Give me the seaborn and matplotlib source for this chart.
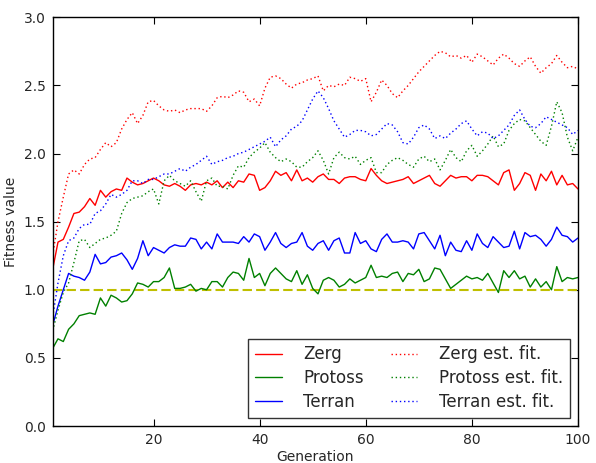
import numpy as np
import pandas as pd
import matplotlib
matplotlib.use("Agg")
import matplotlib.pyplot as plt
import seaborn as sns

# generations 1..100
generations = list(range(1, 101))

zerg = [1.15, 1.35, 1.37, 1.46, 1.56, 1.57, 1.61, 1.67, 1.62, 1.73,
        1.68, 1.72, 1.74, 1.73, 1.82, 1.79, 1.77, 1.78, 1.80, 1.82,
        1.80, 1.77, 1.76, 1.78, 1.76, 1.73, 1.77, 1.78, 1.77, 1.79,
        1.77, 1.80, 1.75, 1.79, 1.75, 1.80, 1.79, 1.85, 1.84, 1.73,
        1.75, 1.80, 1.87, 1.84, 1.86, 1.80, 1.88, 1.80, 1.82, 1.79,
        1.83, 1.85, 1.81, 1.81, 1.78, 1.82, 1.83, 1.83, 1.81, 1.80,
        1.89, 1.84, 1.80, 1.78, 1.79, 1.80, 1.81, 1.83, 1.78, 1.80,
        1.82, 1.84, 1.78, 1.76, 1.80, 1.84, 1.82, 1.83, 1.83, 1.80,
        1.84, 1.84, 1.83, 1.80, 1.77, 1.86, 1.88, 1.73, 1.78, 1.86,
        1.84, 1.73, 1.85, 1.80, 1.87, 1.77, 1.84, 1.77, 1.78, 1.74]

protoss = [0.57, 0.64, 0.62, 0.71, 0.75, 0.81, 0.82, 0.83, 0.82, 0.94,
           0.88, 0.96, 0.94, 0.91, 0.92, 0.97, 1.05, 1.04, 1.02, 1.06,
           1.06, 1.09, 1.16, 1.01, 1.01, 1.02, 1.04, 0.99, 1.01, 1.00,
           1.06, 1.06, 1.02, 1.09, 1.13, 1.12, 1.07, 1.23, 1.09, 1.12,
           1.03, 1.12, 1.16, 1.12, 1.08, 1.06, 1.14, 1.04, 1.11, 1.01,
           0.97, 1.07, 1.09, 1.07, 1.02, 1.04, 1.08, 1.05, 1.07, 1.09,
           1.18, 1.09, 1.10, 1.09, 1.12, 1.13, 1.06, 1.12, 1.11, 1.15,
           1.06, 1.08, 1.16, 1.15, 1.08, 1.01, 1.04, 1.07, 1.10, 1.08,
           1.09, 1.07, 1.12, 1.05, 0.98, 1.14, 1.09, 1.14, 1.08, 1.10,
           1.02, 1.08, 1.02, 1.06, 1.00, 1.17, 1.06, 1.09, 1.08, 1.09]

terran = [0.74, 0.88, 1.00, 1.12, 1.10, 1.09, 1.07, 1.13, 1.26, 1.19,
          1.20, 1.24, 1.25, 1.27, 1.22, 1.15, 1.23, 1.36, 1.25, 1.31,
          1.29, 1.27, 1.31, 1.33, 1.32, 1.32, 1.38, 1.37, 1.30, 1.35,
          1.30, 1.41, 1.35, 1.35, 1.35, 1.34, 1.39, 1.35, 1.41, 1.39,
          1.29, 1.35, 1.42, 1.34, 1.31, 1.34, 1.35, 1.42, 1.32, 1.29,
          1.34, 1.36, 1.29, 1.36, 1.38, 1.27, 1.27, 1.42, 1.34, 1.36,
          1.30, 1.28, 1.37, 1.41, 1.35, 1.35, 1.36, 1.35, 1.30, 1.41,
          1.42, 1.36, 1.30, 1.40, 1.25, 1.35, 1.29, 1.28, 1.36, 1.29,
          1.41, 1.34, 1.31, 1.39, 1.35, 1.31, 1.32, 1.43, 1.30, 1.42,
          1.39, 1.40, 1.37, 1.32, 1.37, 1.46, 1.40, 1.39, 1.35, 1.38]

zerg_est = [1.25, 1.50, 1.68, 1.85, 1.88, 1.85, 1.92, 1.96, 1.97, 2.03,
            2.08, 2.05, 2.08, 2.18, 2.25, 2.30, 2.22, 2.28, 2.38, 2.39,
            2.35, 2.32, 2.31, 2.32, 2.30, 2.32, 2.33, 2.33, 2.33, 2.31,
            2.35, 2.41, 2.42, 2.41, 2.43, 2.46, 2.45, 2.38, 2.40, 2.35,
            2.48, 2.56, 2.57, 2.55, 2.51, 2.48, 2.51, 2.52, 2.54, 2.55,
            2.57, 2.46, 2.50, 2.49, 2.51, 2.50, 2.56, 2.55, 2.53, 2.55,
            2.38, 2.45, 2.54, 2.50, 2.44, 2.41, 2.46, 2.50, 2.55, 2.60,
            2.64, 2.68, 2.72, 2.75, 2.74, 2.71, 2.72, 2.70, 2.72, 2.67,
            2.73, 2.71, 2.68, 2.65, 2.70, 2.73, 2.70, 2.66, 2.64, 2.68,
            2.71, 2.64, 2.59, 2.63, 2.66, 2.72, 2.67, 2.63, 2.64, 2.62]

protoss_est = [0.70, 0.85, 0.98, 1.05, 1.20, 1.36, 1.37, 1.31, 1.34, 1.37,
               1.38, 1.40, 1.43, 1.56, 1.64, 1.67, 1.68, 1.69, 1.72, 1.74,
               1.63, 1.80, 1.84, 1.80, 1.78, 1.76, 1.80, 1.72, 1.65, 1.80,
               1.82, 1.76, 1.76, 1.74, 1.84, 1.91, 1.90, 1.97, 2.01, 2.04,
               2.08, 2.01, 1.97, 1.94, 1.96, 1.94, 1.90, 1.90, 1.94, 1.97,
               2.02, 1.95, 1.85, 1.97, 2.01, 1.97, 1.96, 1.98, 1.92, 1.95,
               1.97, 1.86, 1.86, 1.92, 1.95, 1.97, 1.95, 1.92, 1.90, 1.96,
               1.98, 1.94, 1.96, 1.88, 1.95, 2.03, 1.97, 1.94, 2.02, 2.06,
               1.98, 2.02, 2.07, 2.13, 2.05, 2.07, 2.17, 2.22, 2.25, 2.24,
               2.19, 2.14, 2.09, 2.06, 2.20, 2.38, 2.30, 2.12, 2.02, 2.12]

terran_est = [0.80, 1.05, 1.25, 1.36, 1.38, 1.45, 1.48, 1.48, 1.56, 1.58,
              1.63, 1.70, 1.68, 1.70, 1.73, 1.80, 1.80, 1.78, 1.81, 1.81,
              1.83, 1.85, 1.85, 1.87, 1.89, 1.87, 1.90, 1.92, 1.95, 1.98,
              1.92, 1.94, 1.95, 1.97, 1.98, 2.00, 2.01, 2.03, 2.05, 2.07,
              2.09, 2.12, 2.05, 2.10, 2.13, 2.18, 2.20, 2.24, 2.32, 2.40,
              2.46, 2.41, 2.33, 2.24, 2.18, 2.12, 2.14, 2.17, 2.17, 2.16,
              2.13, 2.14, 2.18, 2.22, 2.21, 2.16, 2.08, 2.07, 2.12, 2.19,
              2.21, 2.18, 2.11, 2.13, 2.11, 2.15, 2.18, 2.22, 2.24, 2.18,
              2.13, 2.16, 2.15, 2.11, 2.13, 2.17, 2.21, 2.28, 2.32, 2.25,
              2.20, 2.19, 2.22, 2.27, 2.25, 2.23, 2.21, 2.19, 2.14, 2.17]

target_fitness = 1.0

sns.set_style("ticks", {"xtick.direction": "in", "ytick.direction": "in"})
plt.rcParams['font.family'] = ['DejaVu Sans']
plt.rcParams['font.size'] = 10
plt.rcParams['xtick.top'] = True
plt.rcParams['ytick.right'] = True

fig = plt.figure(figsize=(5.96, 4.63), dpi=100)
ax = fig.add_axes([0.0884, 0.0799, 0.8814, 0.8827])

dotted = (0, (1, 2))
series = [
    ("Zerg", zerg, "#ff0000", "-"),
    ("Protoss", protoss, "#008000", "-"),
    ("Terran", terran, "#0000ff", "-"),
    ("Zerg est. fit.", zerg_est, "#ff0000", dotted),
    ("Protoss est. fit.", protoss_est, "#008000", dotted),
    ("Terran est. fit.", terran_est, "#0000ff", dotted),
]
for name, vals, col, ls in series:
    sns.lineplot(x=generations, y=vals, color=col, linestyle=ls, lw=1.0,
                 label=name, ax=ax)

ax.axhline(target_fitness, color="#bfbf00", lw=1.5, dashes=(4.5, 2), zorder=1)

ax.set_xlim(1, 100)
ax.set_ylim(0, 3.0)
ax.set_xticks([20, 40, 60, 80, 100])
ax.set_yticks(np.arange(0, 3.01, 0.5))
ax.yaxis.set_major_formatter(matplotlib.ticker.FormatStrFormatter('%.1f'))
ax.tick_params(direction="in", length=5, width=0.8, labelsize=10, pad=5,
               top=True, right=True, color="#000000")
for s in ax.spines.values():
    s.set_color("#000000")
    s.set_linewidth(1.0)
ax.set_xlabel("Generation", fontsize=10, labelpad=2)
ax.set_ylabel("Fitness value", fontsize=10, labelpad=4)

leg = ax.legend(ncol=2, loc="lower right", fontsize=12, frameon=True,
                fancybox=False, handlelength=1.6, handletextpad=1.3,
                columnspacing=1.6, labelspacing=0.35, borderpad=0.4,
                borderaxespad=0.5)
leg.get_frame().set_edgecolor("#000000")
leg.get_frame().set_linewidth(1.0)

fig.savefig("out.png", dpi=100, facecolor="white")
